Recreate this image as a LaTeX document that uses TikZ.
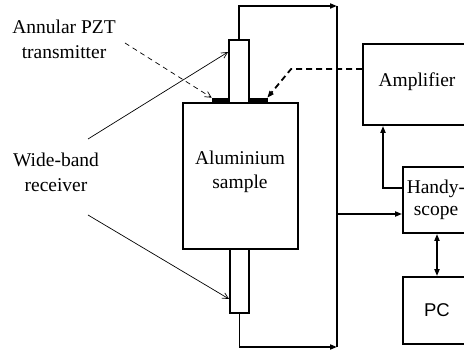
\documentclass[tikz,border=0pt]{standalone}
\usepackage{fontspec}
\setmainfont{Liberation Serif}
\newfontfamily\pcfont{Liberation Sans}
\usetikzlibrary{arrows.meta}
\tikzset{
  wire/.style={line width=1.8pt},
  thickarr/.style={wire,-{Triangle[length=7pt,width=5pt]}},
  thinarr/.style={line width=0.7pt,-{Straight Barb[length=6pt,width=6pt]}},
  blk/.style={draw,line width=1.8pt,rectangle,inner sep=0pt},
  lbl/.style={align=center,inner sep=0pt,font=\fontsize{19.5}{25}\selectfont},
  pzt/.style={fill=black,draw=black,line width=0.5pt,rectangle,inner sep=0pt}
}
\begin{document}
\begin{tikzpicture}[x=1pt,y=-1pt]
\useasboundingbox (0,0) rectangle (464,350);
\clip (0,0) rectangle (464,350);
% sample and rods
\node[blk,minimum width=115pt,minimum height=146pt] (sample) at (240.5,176) {};
\node[lbl,font=\fontsize{19.5}{24}\selectfont] (sampletxt) at (240,172) {Aluminium\\sample};
\node[blk,fill=white,minimum width=20pt,minimum height=63pt] (toprod) at (239,71.5) {};
\node[blk,fill=white,minimum width=19pt,minimum height=64pt] (botrod) at (239.5,281) {};
\node[pzt,minimum width=17pt,minimum height=5pt] (pztL) at (220.5,100.5) {};
\node[pzt,minimum width=18pt,minimum height=5pt] (pztR) at (258,100.5) {};
% right boxes
\node[blk,minimum width=108pt,minimum height=81pt] (amp) at (417,84.5) {};
\node[lbl] (amptxt) at (417,82) {Amplifier};
\node[blk,minimum width=66pt,minimum height=66pt] (hs) at (436,200) {};
\node[lbl,font=\fontsize{19.5}{22}\selectfont] (hstxt) at (436,200) {Handy-\\scope};
\node[blk,minimum width=68pt,minimum height=67pt] (pc) at (437,310.5) {};
\node[lbl,font=\pcfont\fontsize{18.5}{22}\selectfont] (pctxt) at (437,310.5) {PC};
% labels
\node[lbl] (trans) at (64,39) {Annular PZT\\transmitter};
\node[lbl] (recv) at (56,172) {Wide-band\\receiver};
% coordinates
\coordinate (bustop) at (337,6);
\coordinate (busbot) at (337,347);
\coordinate (ta) at (125,43);
\coordinate (ra) at (88,139);
\coordinate (rb) at (88,215);
% wires
\draw[wire] (bustop) -- (busbot);
\draw[thickarr] (toprod.north) |- (bustop);
\draw[thickarr] (botrod.south) |- (busbot);
\draw[thickarr] (bustop |- hs.west) ++(0,14) -- ([yshift=-14pt]hs.west);
\draw[thickarr] ([yshift=12pt]hs.west) -| ([xshift=-34pt]amp.south);
\draw[wire,{Triangle[length=7pt,width=5pt]}-{Triangle[length=7pt,width=5pt]}] (pc.north |- hs.south) -- (pc.north);
\draw[thickarr,dashed,dash pattern=on 6pt off 4pt] ([yshift=15.5pt]amp.west) -- ++(-71,0) -- (pztR.north east);
\draw[thinarr,dashed,dash pattern=on 5pt off 4pt] (ta) -- (pztL.north west);
\draw[thinarr] (ra) -- ([yshift=19.5pt]toprod.west);
\draw[thinarr] (rb) -- ([yshift=-18pt]botrod.west);
\end{tikzpicture}
\end{document}
